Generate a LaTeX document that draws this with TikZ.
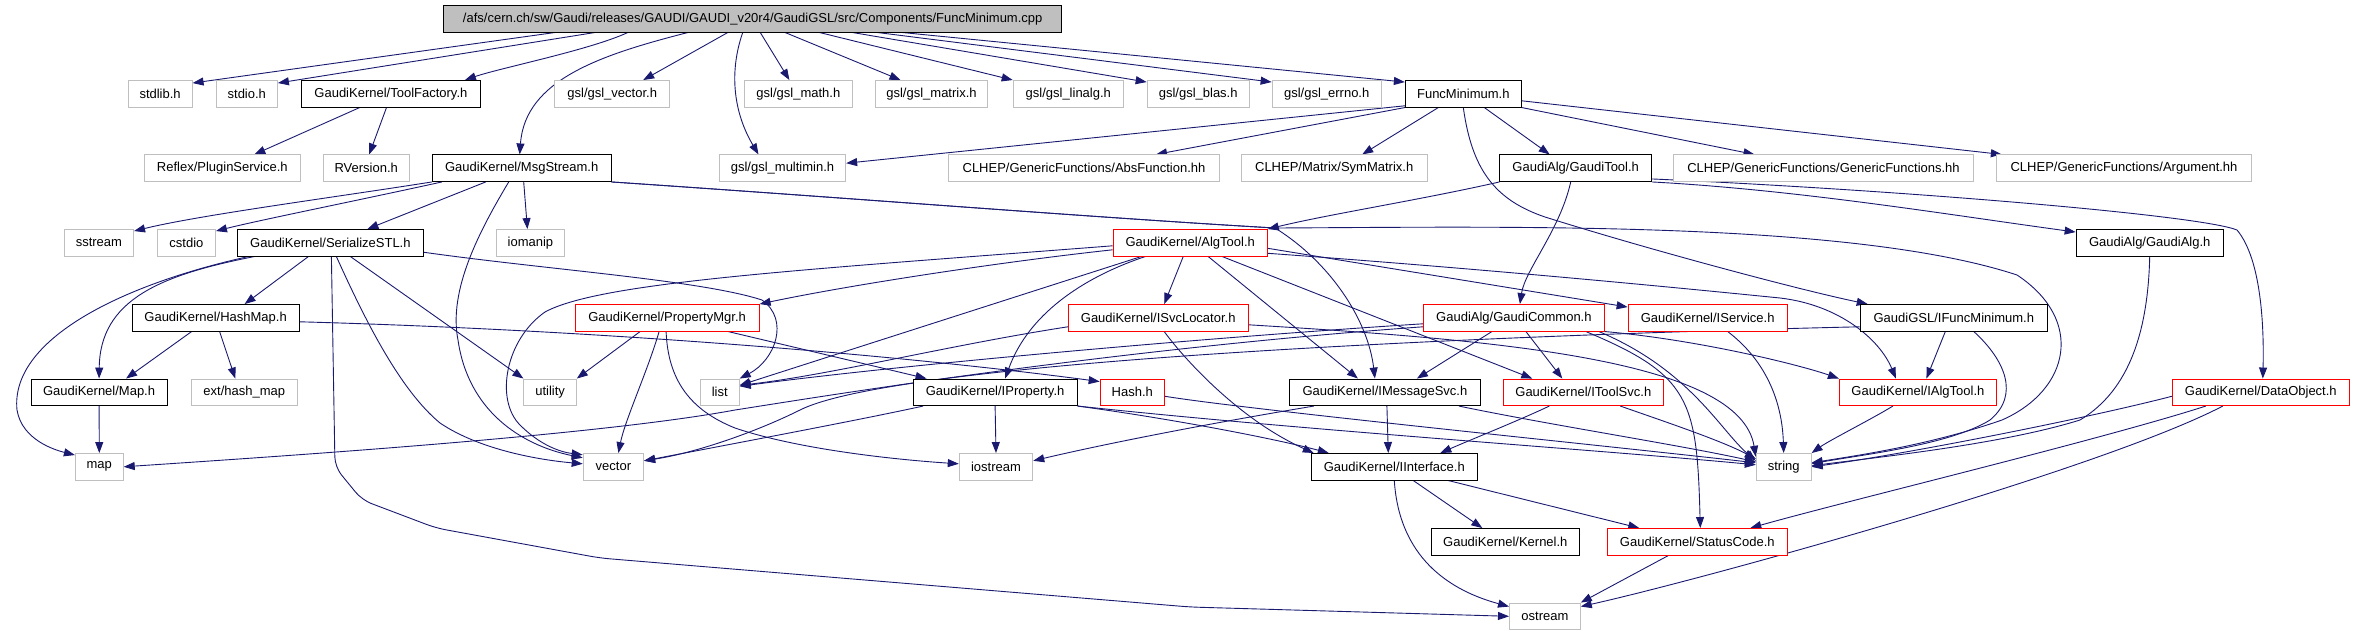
\documentclass[tikz,border=0pt]{standalone}
\usepackage{fontspec}
\setmainfont{Liberation Sans}
\usetikzlibrary{arrows.meta}
\pgfdeclarelayer{bg}
\pgfsetlayers{bg,main}
\definecolor{edgecol}{HTML}{191970}
\definecolor{graybd}{HTML}{BFBFBF}
\tikzset{
 nd/.style={rectangle, inner sep=0pt, minimum height=26.5pt, line width=1pt, fill=white, font=\fontsize{13}{15}\selectfont, text=black},
 gbox/.style={nd, draw=graybd},
 bbox/.style={nd, draw=black},
 rbox/.style={nd, draw=red},
 topbox/.style={nd, draw=black, fill=graybd},
 e/.style={draw=edgecol, line width=0.9pt, -{Triangle[length=11pt,width=8pt]}}
}
\begin{document}
\begin{tikzpicture}[x=1pt,y=-1pt]
\useasboundingbox (0,0) rectangle (2353,634);
% row 0
\node[topbox, minimum width=617.5pt] (top) at (752.7,18.8) {/afs/cern.ch/sw/Gaudi/releases/GAUDI/GAUDI\_v20r4/GaudiGSL/src/Components/FuncMinimum.cpp};
% row 1
\node[gbox, minimum width=63.9pt] (stdlib) at (160.1,93.8) {stdlib.h};
\node[gbox, minimum width=61.2pt] (stdio) at (246.8,93.8) {stdio.h};
\node[bbox, minimum width=178.7pt] (toolfac) at (390.9,93.8) {GaudiKernel/ToolFactory.h};
\node[gbox, minimum width=114.7pt] (gvec) at (612.2,93.8) {gsl/gsl\_vector.h};
\node[gbox, minimum width=108.3pt] (gmath) at (798.4,93.8) {gsl/gsl\_math.h};
\node[gbox, minimum width=112.9pt] (gmatrix) at (931.5,93.8) {gsl/gsl\_matrix.h};
\node[gbox, minimum width=110.2pt] (glinalg) at (1068.3,93.8) {gsl/gsl\_linalg.h};
\node[gbox, minimum width=102.1pt] (gblas) at (1198.2,93.8) {gsl/gsl\_blas.h};
\node[gbox, minimum width=109.1pt] (gerrno) at (1326.7,93.8) {gsl/gsl\_errno.h};
\node[bbox, minimum width=115.9pt] (fmin) at (1463.3,93.8) {FuncMinimum.h};
% row 2
\node[gbox, minimum width=156.1pt] (reflex) at (222.3,168.2) {Reflex/PluginService.h};
\node[gbox, minimum width=85.8pt] (rver) at (366.2,168.2) {RVersion.h};
\node[bbox, minimum width=178.6pt] (msg) at (521.7,168.2) {GaudiKernel/MsgStream.h};
\node[gbox, minimum width=126.3pt] (gmulti) at (782.5,168.2) {gsl/gsl\_multimin.h};
\node[gbox, minimum width=271.6pt] (absf) at (1084,168.2) {CLHEP/GenericFunctions/AbsFunction.hh};
\node[gbox, minimum width=186pt] (symm) at (1334.2,168.2) {CLHEP/Matrix/SymMatrix.h};
\node[bbox, minimum width=151.5pt] (gtool) at (1575.7,168.2) {GaudiAlg/GaudiTool.h};
\node[gbox, minimum width=300.4pt] (genf) at (1823.5,168.2) {CLHEP/GenericFunctions/GenericFunctions.hh};
\node[gbox, minimum width=255.3pt] (argu) at (2124,168.2) {CLHEP/GenericFunctions/Argument.hh};
% row 3
\node[gbox, minimum width=69.3pt] (sstream) at (98.9,242.8) {sstream};
\node[gbox, minimum width=58.1pt] (cstdio) at (186.4,242.8) {cstdio};
\node[bbox, minimum width=186.3pt] (ser) at (330.4,242.8) {GaudiKernel/SerializeSTL.h};
\node[gbox, minimum width=68.1pt] (iomanip) at (530.4,242.8) {iomanip};
\node[rbox, minimum width=154.1pt] (algtool) at (1190.2,242.8) {GaudiKernel/AlgTool.h};
\node[bbox, minimum width=147.1pt] (galg) at (2149.7,242.8) {GaudiAlg/GaudiAlg.h};
% row 4
\node[bbox, minimum width=167.2pt] (hashmap) at (215.6,317.8) {GaudiKernel/HashMap.h};
\node[rbox, minimum width=184pt] (propmgr) at (667.1,317.8) {GaudiKernel/PropertyMgr.h};
\node[rbox, minimum width=179.8pt] (isvc) at (1158.2,317.8) {GaudiKernel/ISvcLocator.h};
\node[rbox, minimum width=181pt] (gcommon) at (1513.9,317.8) {GaudiAlg/GaudiCommon.h};
\node[rbox, minimum width=159.1pt] (iserv) at (1707.7,317.8) {GaudiKernel/IService.h};
\node[bbox, minimum width=187.2pt] (ifmin) at (1953.8,317.8) {GaudiGSL/IFuncMinimum.h};
% row 5
\node[bbox, minimum width=136.2pt] (maph) at (99.1,392.3) {GaudiKernel/Map.h};
\node[gbox, minimum width=106pt] (hmext) at (244.3,392.3) {ext/hash\_map};
\node[gbox, minimum width=52.4pt] (utility) at (550.1,392.3) {utility};
\node[gbox, minimum width=39pt] (list) at (719.7,392.3) {list};
\node[bbox, minimum width=164.1pt] (iprop) at (995.1,392.3) {GaudiKernel/IProperty.h};
\node[rbox, minimum width=64.3pt] (hash) at (1132.3,392.3) {Hash.h};
\node[bbox, minimum width=191pt] (imsg) at (1384.9,392.3) {GaudiKernel/IMessageSvc.h};
\node[rbox, minimum width=160pt] (itool) at (1583.3,392.3) {GaudiKernel/IToolSvc.h};
\node[rbox, minimum width=157pt] (ialg) at (1917.9,392.3) {GaudiKernel/IAlgTool.h};
\node[rbox, minimum width=177pt] (dobj) at (2260.8,392.3) {GaudiKernel/DataObject.h};
% row 6
\node[gbox, minimum width=47.8pt] (map) at (99.3,466.8) {map};
\node[gbox, minimum width=60.4pt] (vector) at (613.4,466.8) {vector};
\node[gbox, minimum width=73.5pt] (iostream) at (996,466.8) {iostream};
\node[bbox, minimum width=166pt] (iint) at (1394.3,466.8) {GaudiKernel/IInterface.h};
\node[gbox, minimum width=54.8pt] (string) at (1783.7,466.8) {string};
% row 7
\node[bbox, minimum width=147.7pt] (kernel) at (1505.3,541.8) {GaudiKernel/Kernel.h};
\node[rbox, minimum width=179.8pt] (status) at (1697.3,541.8) {GaudiKernel/StatusCode.h};
% row 8
\node[gbox, minimum width=70.8pt] (ostream) at (1544.9,616.3) {ostream};

\begin{pgfonlayer}{bg}
% top
\draw[e] ([xshift=-198]top.south) -- ([yshift=-3]stdlib.north east);
\draw[e] ([xshift=-158]top.south) -- ([yshift=-3]stdio.north east);
\draw[e] ([xshift=-125]top.south) .. controls (590,50) and (500,68) .. ([xshift=74]toolfac.north);
\draw[e] ([xshift=-65]top.south) .. controls (600,55) and (525,80) .. ([xshift=-2]msg.north);
\draw[e] ([xshift=-25]top.south) -- ([xshift=31]gvec.north);
\draw[e] ([xshift=-10]top.south) .. controls (728,75) and (735,115) .. ([xshift=-24]gmulti.north);
\draw[e] ([xshift=7.6]top.south) -- ([xshift=-9]gmath.north);
\draw[e] ([xshift=32.5]top.south) -- ([xshift=-31]gmatrix.north);
\draw[e] ([xshift=67]top.south) -- (glinalg.north west);
\draw[e] ([xshift=100]top.south) -- ([yshift=-2]gblas.north west);
\draw[e] ([xshift=125]top.south) -- ([yshift=-2]gerrno.north west);
\draw[e] ([xshift=150]top.south) -- ([yshift=-2]fmin.north west);
% toolfactory
\draw[e] ([xshift=-31.2]toolfac.south) -- ([xshift=32]reflex.north);
\draw[e] ([xshift=-4.4]toolfac.south) -- ([xshift=3]rver.north);
% msgstream
\draw[e] (msg.south west) .. controls (330,198) and (200,215) .. ([yshift=-2]sstream.north east);
\draw[e] ([xshift=10]msg.south west) .. controls (360,200) and (260,220) .. ([yshift=-2]cstdio.north east);
\draw[e] ([xshift=-36]msg.south) -- ([xshift=37]ser.north);
\draw[e] ([xshift=2]msg.south) -- ([xshift=-3]iomanip.north);
\draw[e] ([xshift=-13]msg.south) .. controls (480,230) and (448,290) .. (458,340) .. controls (468,410) and (520,445) .. ([yshift=9]vector.west);
\draw[e] (msg.south east) .. controls (850,198) and (1100,218) .. (1275,228) .. controls (1500,227) and (1850,220) .. (2017,275) .. controls (2085,320) and (2070,390) .. (2002,420) .. controls (1930,445) and (1860,455) .. ([yshift=4]string.east);
\draw[e] (msg.south east) .. controls (850,198) and (1100,218) .. (1275,228) .. controls (1330,262) and (1368,320) .. ([xshift=-10]imsg.north);
% serializeSTL
\draw[e] ([xshift=-76]ser.south) .. controls (160,275) and (100,300) .. (maph.north);
\draw[e] ([xshift=-82]ser.south) .. controls (120,285) and (10,340) .. (17,410) .. controls (22,440) and (55,450) .. ([yshift=-2]map.north west);
\draw[e] ([xshift=-22]ser.south) -- ([xshift=29]hashmap.north);
\draw[e, rounded corners=10pt] ([xshift=1]ser.south) -- (335,467) -- (362,500) -- (436,528) -- (600,558) -- (1190,607) -- (ostream.west);
\draw[e] ([xshift=6]ser.south) .. controls (365,320) and (400,390) .. (440,423) .. controls (480,450) and (540,460) .. ([yshift=3]vector.west);
\draw[e] ([xshift=20]ser.south) -- (utility.north west);
\draw[e] ([yshift=-9.5]ser.east) .. controls (550,270) and (700,280) .. (762,300) .. controls (790,320) and (775,360) .. (list.north east);
% hashmap
\draw[e] ([xshift=-24]hashmap.south) -- ([xshift=27]maph.north);
\draw[e] ([xshift=4]hashmap.south) -- ([xshift=-9]hmext.north);
\draw[e] ([yshift=-4]hashmap.east) .. controls (600,330) and (900,355) .. ([yshift=-3]hash.north west);
\draw[e] (maph.south) -- (map.north);
% propertymgr
\draw[e] ([xshift=-27]propmgr.south) -- (utility.north east);
\draw[e] ([xshift=-8]propmgr.south) .. controls (648,370) and (625,420) .. ([xshift=5]vector.north);
\draw[e] ([xshift=-1]propmgr.south) .. controls (668,380) and (690,410) .. (735,428) .. controls (800,450) and (900,460) .. ([yshift=3]iostream.west);
\draw[e] ([xshift=61]propmgr.south) -- ([xshift=14]iprop.north west);
% algtool
\draw[e] ([yshift=-7]algtool.west) .. controls (1000,262) and (850,285) .. (propmgr.north east);
\draw[e] ([yshift=-3]algtool.west) .. controls (800,270) and (600,282) .. (545,312) .. controls (505,340) and (495,400) .. (520,425) .. controls (540,445) and (560,452) .. ([yshift=12]vector.west);
\draw[e] ([xshift=-49]algtool.south) -- ([yshift=7]list.east);
\draw[e] ([xshift=-7]algtool.south) -- ([xshift=6]isvc.north);
\draw[e] ([xshift=-45]algtool.south) .. controls (1090,275) and (1030,310) .. ([xshift=10]iprop.north);
\draw[e] ([xshift=18]algtool.south) -- ([xshift=-27]imsg.north);
\draw[e] ([xshift=32]algtool.south) -- ([xshift=-51]itool.north);
\draw[e] ([yshift=-5.5]algtool.east) -- ([yshift=-3]iserv.north west);
\draw[e] ([yshift=-10.5]algtool.east) .. controls (1500,270) and (1700,290) .. (1780,298) .. controls (1840,305) and (1880,340) .. ([xshift=-22]ialg.north);
% gauditool
\draw[e] (gtool.south west) .. controls (1420,200) and (1330,214) .. (algtool.north east);
\draw[e] ([xshift=-5]gtool.south) .. controls (1560,230) and (1525,270) .. ([xshift=6]gcommon.north);
\draw[e] (gtool.south east) .. controls (1800,190) and (1950,215) .. ([yshift=-3]galg.north west);
\draw[e] ([yshift=3]gtool.south east) .. controls (1900,190) and (2200,215) .. (2237,230) .. controls (2262,260) and (2264,330) .. ([xshift=2]dobj.north);
% funcminimum
\draw[e] ([yshift=-12]fmin.west) -- ([yshift=5]gmulti.east);
\draw[e] (fmin.south west) -- ([xshift=72]absf.north);
\draw[e] ([xshift=-25]fmin.south) -- ([xshift=28]symm.north);
\draw[e] ([xshift=21]fmin.south) -- ([xshift=-26]gtool.north);
\draw[e] (fmin.south east) -- ([xshift=-69]genf.north);
\draw[e] ([yshift=-7]fmin.east) -- ([xshift=6]argu.north west);
\draw[e] (fmin.south) .. controls (1472,170) and (1495,200) .. (1545,217) .. controls (1650,250) and (1800,290) .. ([xshift=8]ifmin.north west);
% gaudicommon
\draw[e] ([xshift=-22]gcommon.south) -- ([xshift=32]imsg.north);
\draw[e] ([xshift=12]gcommon.south) -- ([xshift=-21]itool.north);
\draw[e] ([xshift=72]gcommon.south) .. controls (1690,375) and (1697,400) .. ([xshift=3]status.north);
\draw[e] (gcommon.south east) .. controls (1700,340) and (1800,365) .. (ialg.north west);
\draw[e] ([xshift=85]gcommon.south) .. controls (1690,370) and (1720,430) .. ([yshift=6]string.west);
\draw[e] ([yshift=-6]gcommon.west) .. controls (1200,338) and (900,365) .. ([yshift=6]list.east);
\draw[e] ([yshift=-9]gcommon.west) .. controls (1100,350) and (800,400) .. (735,410) .. controls (600,435) and (300,455) .. (map.east);
% ifuncminimum
\draw[e] ([yshift=-9]ifmin.west) .. controls (1500,335) and (900,360) .. (800,410) .. controls (760,430) and (700,452) .. ([yshift=6]vector.east);
\draw[e] ([xshift=-8.5]ifmin.south) -- ([xshift=8.5]ialg.north);
\draw[e] ([xshift=20]ifmin.south) .. controls (2005,360) and (2020,395) .. (1990,420) .. controls (1950,445) and (1860,455) .. ([yshift=3]string.east);
% others to string
\draw[e] ([xshift=20]iserv.south) .. controls (1765,360) and (1782,400) .. (string.north);
\draw[e] ([xshift=-25]ialg.south) .. controls (1870,420) and (1830,440) .. (string.north east);
\draw[e] (galg.south) .. controls (2148,330) and (2130,390) .. (2080,420) .. controls (2000,445) and (1870,458) .. ([yshift=1]string.east);
\draw[e] ([yshift=-4]dobj.west) .. controls (2080,420) and (1900,455) .. (string.east);
\draw[e] ([xshift=-55]dobj.south) .. controls (2100,440) and (1850,500) .. ([xshift=53]status.north);
\draw[e] ([xshift=-38]dobj.south) .. controls (2100,470) and (1700,580) .. ([yshift=-4]ostream.north east);
% isvclocator
\draw[e] ([yshift=-9]isvc.west) .. controls (950,345) and (830,375) .. ([yshift=7]list.east);
\draw[e] ([xshift=6]isvc.south) .. controls (1185,360) and (1240,420) .. ([xshift=3]iint.north west);
\draw[e] ([yshift=-7]isvc.east) .. controls (1500,340) and (1740,360) .. ([yshift=10]string.west);
% iproperty
\draw[e] (iprop.south) -- (iostream.north);
\draw[e] ([xshift=-72]iprop.south) .. controls (860,420) and (700,450) .. ([yshift=6]vector.east);
\draw[e] (iprop.south east) .. controls (1180,420) and (1280,440) .. ([xshift=18]iint.north west);
\draw[e] (iprop.south east) .. controls (1300,430) and (1600,450) .. ([yshift=2]string.west);
\draw[e] ([yshift=-4]hash.east) .. controls (1250,410) and (1600,445) .. ([yshift=4]string.west);
% imessagesvc
\draw[e] ([xshift=-71]imsg.south) .. controls (1200,425) and (1100,445) .. ([yshift=6]iostream.east);
\draw[e] ([xshift=2]imsg.south) -- ([xshift=-6]iint.north);
\draw[e] ([xshift=74]imsg.south) .. controls (1550,425) and (1680,445) .. ([yshift=5]string.west);
% itoolsvc
\draw[e] ([xshift=-34]itool.south) .. controls (1520,420) and (1470,440) .. ([xshift=46]iint.north);
\draw[e] ([xshift=37]itool.south) .. controls (1660,420) and (1720,440) .. ([yshift=8]string.west);
% iinterface
\draw[e] ([xshift=19]iint.south) -- ([xshift=-23]kernel.north);
\draw[e] ([xshift=54]iint.south) -- ([xshift=-58]status.north);
\draw[e] (iint.south) .. controls (1398,540) and (1430,585) .. ([yshift=-4]ostream.north west);
\draw[e] ([xshift=-29]status.south) -- (ostream.north east);
\end{pgfonlayer}
\end{tikzpicture}
\end{document}
